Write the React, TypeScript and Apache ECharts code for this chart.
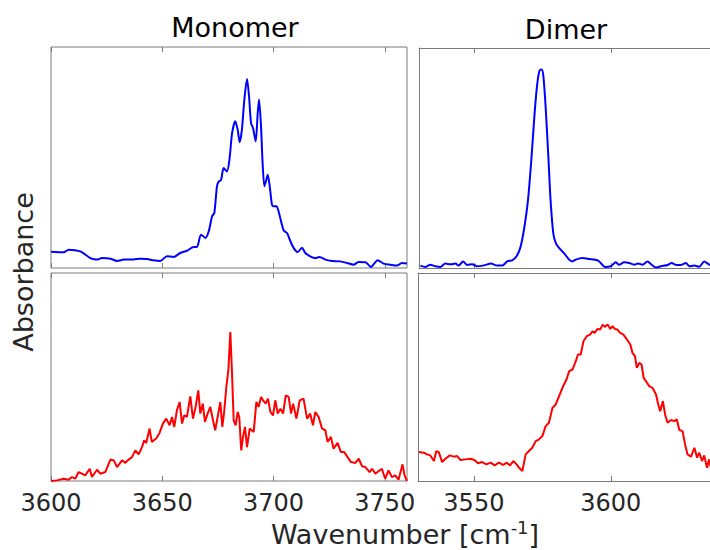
import React, { useEffect, useRef } from "react";
import * as echarts from "echarts";

// ---- Data (normalized absorbance) ----
const monomerTop: number[][] = [
  [3600, 0.074], [3605.7, 0.071], [3607.9, 0.083], [3613.2, 0.075], [3617.7, 0.045], [3620.7, 0.038],
  [3622.9, 0.045], [3626.7, 0.042], [3629.7, 0.032], [3632.7, 0.038], [3637.1, 0.039], [3640.1, 0.042],
  [3643.1, 0.041], [3646.1, 0.035], [3649.1, 0.032], [3652.1, 0.053], [3655.1, 0.05], [3658.1, 0.068],
  [3661.1, 0.078], [3664.1, 0.095], [3665.6, 0.095], [3667.4, 0.151], [3669.4, 0.136], [3670.9, 0.166],
  [3672.4, 0.234], [3673.4, 0.249], [3674.6, 0.37], [3675.4, 0.392], [3676.4, 0.397], [3677.6, 0.452],
  [3679.1, 0.437], [3680.2, 0.49], [3681.4, 0.611], [3682.8, 0.664], [3683.9, 0.626], [3684.8, 0.569],
  [3685.8, 0.626], [3686.9, 0.762], [3688.1, 0.855], [3689.0, 0.777], [3689.9, 0.656], [3690.8, 0.633],
  [3692.0, 0.573], [3692.9, 0.701], [3693.5, 0.762], [3694.4, 0.641], [3695.1, 0.475], [3695.9, 0.37],
  [3696.6, 0.392], [3697.4, 0.422], [3698.3, 0.37], [3699.3, 0.287], [3700.1, 0.279], [3701.3, 0.279],
  [3702.3, 0.256], [3703.4, 0.211], [3704.6, 0.17], [3706.1, 0.158], [3707.6, 0.121], [3709.1, 0.09],
  [3710.9, 0.072], [3712.8, 0.092], [3714.3, 0.068], [3716.5, 0.053], [3718.8, 0.045], [3720.7, 0.05],
  [3723.3, 0.038], [3726.3, 0.032], [3730.0, 0.03], [3733.0, 0.023], [3736.0, 0.015], [3738.2, 0.027],
  [3741.3, 0.026], [3743.8, 0.005], [3746.8, 0.035], [3749.5, 0.02], [3752.5, 0.015], [3755.5, 0.011],
  [3757.7, 0.023], [3760, 0.02],
];

const monomerBottom: number[][] = [
  [3600, 0.0], [3602.7, 0.003], [3605.7, 0.011], [3607.9, 0.006], [3609.4, 0.019], [3610.9, 0.011],
  [3612.4, 0.043], [3613.9, 0.035], [3615.4, 0.027], [3617.4, 0.059], [3618.4, 0.019], [3620.7, 0.054],
  [3622.2, 0.035], [3624.4, 0.043], [3626.7, 0.103], [3628.2, 0.099], [3629.7, 0.067], [3631.9, 0.099],
  [3633.4, 0.087], [3634.9, 0.103], [3636.4, 0.115], [3637.9, 0.147], [3639.4, 0.128], [3640.9, 0.163],
  [3641.9, 0.196], [3642.8, 0.183], [3644.3, 0.252], [3645.3, 0.188], [3647.3, 0.204], [3648.8, 0.231],
  [3650.3, 0.276], [3651.8, 0.3], [3653.3, 0.268], [3654.4, 0.308], [3655.4, 0.26], [3656.6, 0.34],
  [3657.8, 0.38], [3658.9, 0.276], [3659.9, 0.316], [3661.1, 0.308], [3662.6, 0.407], [3663.8, 0.3],
  [3665.0, 0.356], [3666.2, 0.436], [3667.1, 0.324], [3668.2, 0.372], [3669.2, 0.284], [3670.4, 0.324],
  [3671.6, 0.356], [3672.8, 0.292], [3673.8, 0.244], [3674.9, 0.308], [3676.1, 0.38], [3677.0, 0.26],
  [3677.9, 0.34], [3678.8, 0.452], [3679.7, 0.532], [3680.6, 0.716], [3681.3, 0.532], [3682.1, 0.292],
  [3683.0, 0.268], [3683.9, 0.332], [3684.6, 0.308], [3685.5, 0.147], [3686.3, 0.212], [3687.2, 0.26],
  [3688.1, 0.163], [3689.3, 0.252], [3691.1, 0.236], [3692.3, 0.38], [3693.3, 0.356], [3694.4, 0.404],
  [3695.3, 0.388], [3696.5, 0.372], [3697.5, 0.396], [3698.6, 0.332], [3699.8, 0.316], [3700.8, 0.388],
  [3701.9, 0.324], [3703.1, 0.348], [3704.3, 0.324], [3705.5, 0.412], [3706.8, 0.404], [3707.9, 0.324],
  [3708.8, 0.372], [3710.3, 0.3], [3711.8, 0.388], [3713.5, 0.396], [3715.1, 0.3], [3716.5, 0.324],
  [3717.7, 0.268], [3718.8, 0.332], [3720.3, 0.308], [3721.8, 0.252], [3723.3, 0.244], [3724.3, 0.188],
  [3725.8, 0.212], [3727.0, 0.155], [3728.8, 0.183], [3730.3, 0.139], [3731.8, 0.139], [3733.3, 0.115],
  [3734.8, 0.091], [3736.8, 0.087], [3738.3, 0.107], [3739.8, 0.071], [3741.3, 0.067], [3743.2, 0.043],
  [3744.3, 0.059], [3745.8, 0.035], [3747.3, 0.048], [3748.7, 0.059], [3750.2, 0.011], [3751.7, 0.051],
  [3753.2, 0.019], [3754.7, 0.027], [3756.2, 0.006], [3758.0, 0.08], [3758.9, 0.027], [3760, 0.0],
];

const dimerTop: number[][] = [
  [3530.5, 0.011], [3532.3, 0.005], [3534.1, 0.015], [3536.0, 0.008], [3537.8, 0.005], [3539.6, 0.02],
  [3541.5, 0.017], [3543.3, 0.02], [3544.5, 0.011], [3546.1, 0.03], [3547.6, 0.014], [3549.4, 0.017],
  [3551.2, 0.008], [3553.7, 0.012], [3556.3, 0.02], [3558.5, 0.011], [3560.4, 0.011], [3562.2, 0.03],
  [3564.0, 0.035], [3565.6, 0.053], [3567.1, 0.098], [3568.5, 0.189], [3569.8, 0.311], [3571.0, 0.492],
  [3572.2, 0.705], [3573.2, 0.841], [3574.0, 0.898], [3574.8, 0.902], [3575.4, 0.871], [3576.2, 0.735],
  [3577.2, 0.508], [3578.0, 0.311], [3579.0, 0.159], [3579.9, 0.114], [3581.1, 0.091], [3582.9, 0.068],
  [3584.8, 0.038], [3586.0, 0.03], [3587.2, 0.038], [3589.6, 0.045], [3592.1, 0.041], [3595.1, 0.035],
  [3596.3, 0.023], [3597.8, 0.005], [3600, 0.008], [3601.8, 0.026], [3603.0, 0.015], [3604.9, 0.026],
  [3606.7, 0.023], [3608.5, 0.015], [3610.0, 0.02], [3611.6, 0.015], [3613.4, 0.03], [3614.9, 0.015],
  [3616.5, 0.002], [3618.3, 0.008], [3620.7, 0.014], [3622.2, 0.023], [3623.8, 0.014], [3625.6, 0.014],
  [3627.4, 0.023], [3628.7, 0.008], [3630.5, 0.011], [3632.3, 0.006], [3634.1, 0.03], [3635.4, 0.02],
  [3636.6, 0.011], [3639.0, 0.015],
];

const dimerBottom: number[][] = [
  [3529.9, 0.139], [3531.7, 0.136], [3532.9, 0.128], [3534.1, 0.123], [3535.4, 0.096], [3536.3, 0.144],
  [3537.2, 0.139], [3538.4, 0.091], [3539.6, 0.107], [3541.2, 0.123], [3542.7, 0.117], [3543.9, 0.12],
  [3545.1, 0.101], [3546.9, 0.104], [3548.8, 0.107], [3550.2, 0.101], [3551.5, 0.085], [3553.0, 0.091],
  [3554.6, 0.08], [3556.1, 0.088], [3557.6, 0.075], [3559.1, 0.088], [3560.7, 0.077], [3562.0, 0.088],
  [3563.2, 0.075], [3564.4, 0.096], [3565.6, 0.08], [3566.5, 0.064], [3567.7, 0.048], [3568.9, 0.128],
  [3570.1, 0.144], [3571.3, 0.16], [3572.6, 0.192], [3573.8, 0.2], [3575.0, 0.216], [3576.2, 0.264],
  [3577.4, 0.28], [3578.7, 0.352], [3579.9, 0.368], [3581.1, 0.408], [3582.6, 0.456], [3583.8, 0.488],
  [3584.8, 0.528], [3586.0, 0.536], [3587.2, 0.576], [3588.0, 0.608], [3589.0, 0.608], [3590.0, 0.672],
  [3591.2, 0.696], [3592.4, 0.704], [3593.3, 0.72], [3594.1, 0.712], [3595.1, 0.731], [3596.1, 0.728],
  [3597.0, 0.752], [3597.8, 0.741], [3598.8, 0.752], [3599.8, 0.731], [3600.6, 0.744], [3601.5, 0.731],
  [3602.4, 0.728], [3603.4, 0.712], [3604.6, 0.704], [3605.9, 0.68], [3607.1, 0.656], [3607.9, 0.616],
  [3608.8, 0.6], [3609.5, 0.544], [3610.4, 0.568], [3611.2, 0.56], [3612.0, 0.496], [3613.2, 0.472],
  [3614.0, 0.456], [3615.2, 0.448], [3616.5, 0.416], [3617.3, 0.368], [3618.0, 0.336], [3619.0, 0.384],
  [3619.8, 0.32], [3620.7, 0.28], [3622.0, 0.293], [3623.2, 0.288], [3624.1, 0.296], [3625.0, 0.245],
  [3626.2, 0.24], [3627.1, 0.176], [3628.0, 0.128], [3629.3, 0.117], [3630.5, 0.16], [3631.5, 0.112],
  [3632.3, 0.136], [3633.3, 0.096], [3634.1, 0.123], [3635.1, 0.064], [3635.9, 0.104], [3636.6, 0.056],
  [3638.0, 0.07],
];

const monomerTicks = [3600, 3650, 3700, 3750];
const dimerTicks = [3550, 3600];
const monomerRange = [3600, 3760];
const dimerRange = [3530, 3636.2];
const titles = ["Monomer", "Dimer"];
const xAxisTitle = "Wavenumber [cm";
const xAxisTitleSup = "-1";
const yAxisTitle = "Absorbance";

const FONT = "DejaVu Sans";
const FRAME = "#7a7a7a";

export default function App() {
  const ref = useRef<HTMLDivElement>(null);
  useEffect(() => {
    if (!ref.current) return;
    const chart = echarts.init(ref.current, null, { renderer: "svg" });

    const grids = [
      { left: 51, top: 47, width: 356, height: 221, show: true },
      { left: 51, top: 273, width: 356, height: 208, show: true },
      { left: 419, top: 48, width: 291, height: 220, show: false },
      { left: 418, top: 273, width: 292, height: 208, show: false },
    ].map((g) => ({ ...g, borderColor: FRAME, borderWidth: 1, backgroundColor: "transparent" }));

    const panels = [
      { range: monomerRange, ticks: monomerTicks, labels: false, data: monomerTop, color: "#0000ff", smooth: 0.25, open: false },
      { range: monomerRange, ticks: monomerTicks, labels: true, data: monomerBottom, color: "#ff0000", smooth: 0, open: false },
      { range: dimerRange, ticks: dimerTicks, labels: false, data: dimerTop, color: "#0000ff", smooth: 0.25, open: true },
      { range: [3529.6, 3636.2], ticks: dimerTicks, labels: true, data: dimerBottom, color: "#ff0000", smooth: 0, open: true },
    ];

    const xAxes: any[] = [];
    const yAxes: any[] = [];
    const series: any[] = [];
    panels.forEach((p, i) => {
      ["bottom", "top"].forEach((pos) => {
        xAxes.push({
          type: "value",
          gridIndex: i,
          position: pos,
          min: p.range[0],
          max: p.range[1],
          axisLine: { show: p.open, lineStyle: { color: FRAME, width: 1 } },
          splitLine: { show: false },
          axisTick: {
            show: true,
            inside: true,
            length: 5,
            customValues: p.ticks,
            lineStyle: { color: FRAME, width: 1 },
          },
          axisLabel: {
            show: p.labels && pos === "bottom",
            customValues: p.ticks,
            formatter: (v: number) => String(v),
            fontFamily: FONT,
            fontSize: 24,
            color: "#262626",
            margin: 10,
          },
        });
      });
      yAxes.push({
        type: "value",
        gridIndex: i,
        min: 0,
        max: 1,
        position: "left",
        axisLine: { show: p.open, lineStyle: { color: FRAME, width: 1 } },
        axisTick: { show: false },
        axisLabel: { show: false },
        splitLine: { show: false },
      });
      series.push({
        type: "line",
        xAxisIndex: i * 2,
        yAxisIndex: i,
        data: p.data,
        showSymbol: false,
        smooth: p.smooth,
        clip: true,
        lineStyle: { color: p.color, width: 2 },
      });
    });

    chart.setOption({
      animation: false,
      backgroundColor: "#ffffff",
      grid: grids,
      xAxis: xAxes,
      yAxis: yAxes,
      series,
      graphic: [
        {
          type: "text",
          x: 235,
          y: 27,
          style: { text: titles[0], fontFamily: FONT, fontSize: 27, fill: "#000000", align: "center", verticalAlign: "middle" },
        },
        {
          type: "text",
          x: 566,
          y: 29,
          style: { text: titles[1], fontFamily: FONT, fontSize: 27, fill: "#000000", align: "center", verticalAlign: "middle" },
        },
        {
          type: "text",
          x: 23,
          y: 272,
          rotation: Math.PI / 2,
          style: { text: yAxisTitle, fontFamily: FONT, fontSize: 27, fill: "#262626", align: "center", verticalAlign: "middle" },
        },
        {
          type: "text",
          x: 405,
          y: 534,
          style: {
            text: "{a|" + xAxisTitle + "}{s|" + xAxisTitleSup + "}{a|]}",
            align: "center",
            verticalAlign: "middle",
            rich: {
              a: { fontFamily: FONT, fontSize: 27, fill: "#262626", color: "#262626" },
              s: { fontFamily: FONT, fontSize: 18, fill: "#262626", color: "#262626", padding: [0, 0, 14, 0] },
            },
          },
        },
      ],
    });
    return () => chart.dispose();
  }, []);
  return (
    <div
      ref={ref}
      style={{ position: "fixed", left: 0, top: 0, width: 710, height: 550, background: "#fff" }}
    />
  );
}
